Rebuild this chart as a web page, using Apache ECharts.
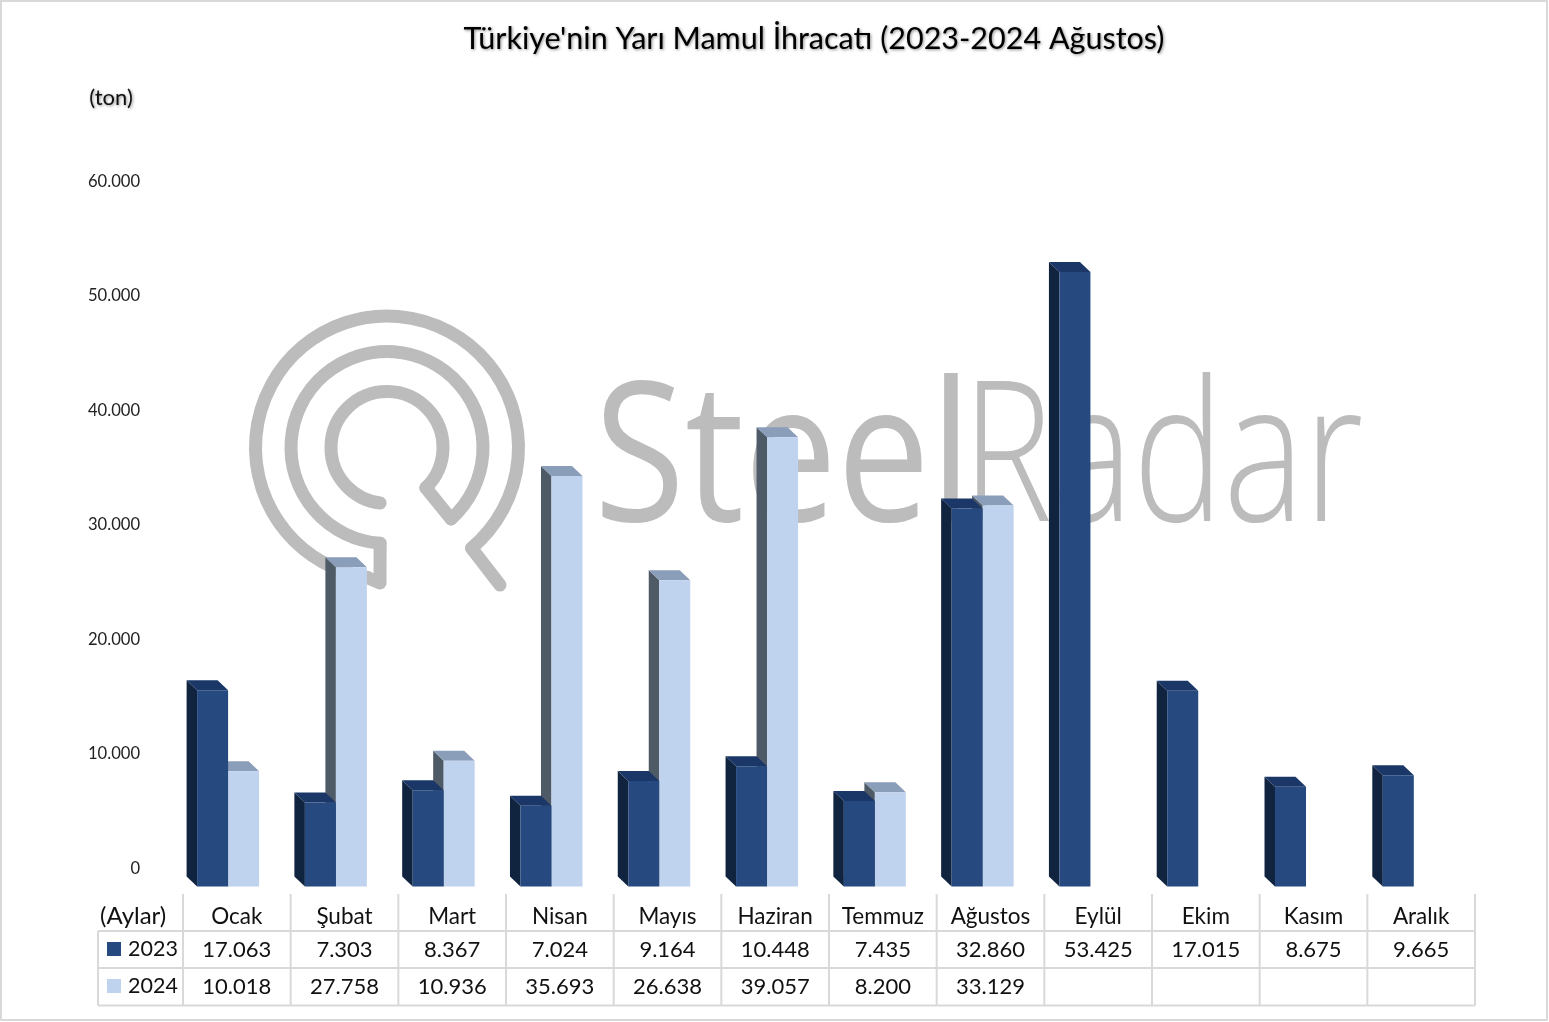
<!DOCTYPE html>
<html><head><meta charset="utf-8">
<style>html,body{margin:0;padding:0;background:#fff}#c{width:1549px;height:1022px}</style>
<script src="https://cdn.jsdelivr.net/npm/echarts@6/dist/echarts.min.js"></script>
</head><body><div id="c"></div>
<script>
const months = ['Ocak','Şubat','Mart','Nisan','Mayıs','Haziran','Temmuz','Ağustos','Eylül','Ekim','Kasım','Aralık'];
const values2023 = [17063,7303,8367,7024,9164,10448,7435,32860,53425,17015,8675,9665];
const values2024 = [10018,27758,10936,35693,26638,39057,8200,33129,null,null,null,null];
const yTicks = [0,10000,20000,30000,40000,50000,60000];
const chartTitle = "Türkiye'nin Yarı Mamul İhracatı (2023-2024 Ağustos)";

const FONT = 'Lato';
const fmt = v => v == null ? ' ' : String(v).replace(/\B(?=(\d{3})+$)/g, '.');
const LEFT = 183, WIDTH = 1292, BAND = WIDTH / 12;
const LINE = '#d9d9d9', WM = '#bcbcbc';

function bar3d(offset, face, side, top) {
  return function (params, api) {
    const v = api.value(1);
    if (v == null || isNaN(v)) return;
    const base = api.coord([api.value(0), 0]);
    const head = api.coord([api.value(0), v]);
    const w = 31, dx = 10.5, dy = 10;
    const x = base[0] + offset, y0 = base[1], y1 = head[1];
    return { type: 'group', children: [
      { type: 'polygon', shape: { points: [[x-dx,y1-dy],[x,y1],[x,y0],[x-dx,y0-dy]] }, style: { fill: side } },
      { type: 'polygon', shape: { points: [[x-dx,y1-dy],[x+w-dx,y1-dy],[x+w,y1],[x,y1]] }, style: { fill: top } },
      { type: 'rect', shape: { x: x, y: y1, width: w, height: y0 - y1 }, style: { fill: face } }
    ]};
  };
}
const toData = arr => arr.map((v, i) => [i, v]).filter(d => d[1] != null);

// watermark
const C = [387, 447.5];
const onCircle = (r, p) => { const a = Math.atan2(p[1]-C[1], p[0]-C[0]); return [C[0]+r*Math.cos(a), C[1]+r*Math.sin(a)]; };
function arc(r, from, to, cw) {
  return { type: 'arc', shape: { cx: C[0], cy: C[1], r: r,
      startAngle: Math.atan2(from[1]-C[1], from[0]-C[0]),
      endAngle: Math.atan2(to[1]-C[1], to[0]-C[0]), clockwise: cw },
    style: { fill: null, stroke: WM, lineWidth: 13, lineCap: 'round' }, silent: true };
}
function pl(points) {
  return { type: 'polyline', shape: { points: points },
    style: { fill: null, stroke: WM, lineWidth: 13, lineCap: 'round', lineJoin: 'round' }, silent: true };
}
const watermark = [
  arc(131.5, [474,551], [367,579], false),
  arc(96, [380,545], [452,520], true),
  arc(56, [428,490], [380,504], false),
  pl([[500,585], onCircle(131.5,[474,551])]),
  pl([onCircle(131.5,[367,579]),[380,583],onCircle(96,[380,545])]),
  pl([onCircle(96,[452,520]),onCircle(56,[428,490])]),
  { type: 'text', x: 594, y: 465, silent: true, scaleX: 0.85,
    style: { text: 'Steel', fill: WM, font: '400 195px "Open Sans"', textVerticalAlign: 'middle' } },
  { type: 'text', x: 962, y: 465, silent: true, scaleX: 0.78,
    style: { text: 'Radar', fill: WM, font: '300 195px "Open Sans"', textVerticalAlign: 'middle' } }
];

// table rules
const rules = [];
const ln = (x1,y1,x2,y2) => rules.push({ type:'line', shape:{x1,y1,x2,y2}, style:{stroke:LINE,lineWidth:2}, silent:true });
for (let i = 0; i <= 12; i++) { const x = LEFT + i * BAND; ln(x, 894, x, 1005.5); }
[931, 968, 1005.5].forEach(y => ln(98, y, LEFT + WIDTH, y));
ln(98, 931, 98, 1005.5);

const shadow = { textShadowColor: 'rgba(0,0,0,0.45)', textShadowBlur: 3, textShadowOffsetX: 1, textShadowOffsetY: 1 };

const chart = echarts.init(document.getElementById('c'), null, { renderer: 'canvas', width: 1549, height: 1022 });
chart.setOption({
  animation: false,
  backgroundColor: '#fff',
  title: { text: chartTitle, left: 809, top: 19, textAlign: 'center',
    textStyle: { fontFamily: FONT, fontSize: 30.5, fontWeight: 400, color: '#000', ...shadow } },
  legend: { data: ['2023','2024'], orient: 'vertical', left: 107, top: 938, padding: 0, itemWidth: 14, itemHeight: 14, itemGap: 15,
    selectedMode: false, icon: 'rect',
    textStyle: { fontFamily: FONT, fontSize: 21.5, color: '#111', padding: [0,0,0,2], height: 22, lineHeight: 22 } },
  grid: [
    { left: LEFT, width: 1293.5, top: 196.5, height: 690 },
    { left: LEFT, width: WIDTH, top: 181.5, height: 687 }
  ],
  xAxis: [
    { type: 'category', gridIndex: 0, data: months, show: false },
    { type: 'category', gridIndex: 1, data: months, axisLine: { show: false }, axisTick: { show: false },
      axisLabel: { interval: 0, margin: 34, hideOverlap: false,
        formatter: (m, i) => `{m|${m}}\n{v|${fmt(values2023[i])}}\n{v|${fmt(values2024[i])}}`,
        rich: {
          m: { fontFamily: FONT, fontSize: 22.5, color: '#111', lineHeight: 29 },
          v: { fontFamily: FONT, fontSize: 22, color: '#111', lineHeight: 37 }
        } } }
  ],
  yAxis: [
    { type: 'value', gridIndex: 0, min: 0, max: 60000, interval: 10000, show: false },
    { type: 'value', gridIndex: 1, min: yTicks[0], max: yTicks[yTicks.length-1], interval: 10000,
      axisLine: { show: false }, axisTick: { show: false }, splitLine: { show: false },
      axisLabel: { margin: 43, fontFamily: FONT, fontSize: 16.6, color: '#222', formatter: v => fmt(v) } }
  ],
  graphic: { elements: [
    ...watermark, ...rules,
    { type: 'rect', shape: { x: 1, y: 1, width: 1546, height: 1019 }, style: { fill: null, stroke: LINE, lineWidth: 2 }, silent: true },
    { type: 'text', x: 111, y: 98, silent: true,
      style: { text: '(ton)', font: '400 22px Lato', fill: '#111', textAlign: 'center', textVerticalAlign: 'middle', ...shadow } },
    { type: 'text', x: 100, y: 916, silent: true,
      style: { text: '(Aylar)', font: '400 24px Lato', fill: '#111', textAlign: 'left', textVerticalAlign: 'middle' } }
  ]},
  series: [
    { name: '2024', type: 'custom', coordinateSystem: 'cartesian2d', xAxisIndex: 0, yAxisIndex: 0, clip: false,
      itemStyle: { color: '#c0d3ee' }, data: toData(values2024), encode: { x: 0, y: 1 },
      renderItem: bar3d(-8.8, '#c0d3ee', '#4f5a67', '#8a9db9') },
    { name: '2023', type: 'custom', coordinateSystem: 'cartesian2d', xAxisIndex: 0, yAxisIndex: 0, clip: false,
      itemStyle: { color: '#264a80' }, data: toData(values2023), encode: { x: 0, y: 1 },
      renderItem: bar3d(-39.8, '#264a80', '#10233f', '#1b3768') }
  ]
});
</script></body></html>
